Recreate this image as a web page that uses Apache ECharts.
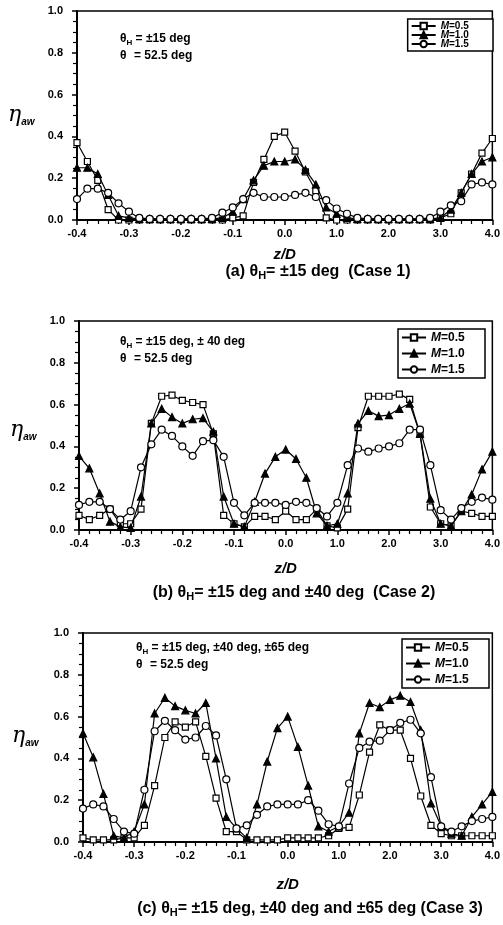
<!DOCTYPE html>
<html>
<head>
<meta charset="utf-8">
<script src="https://cdn.jsdelivr.net/npm/echarts@6/dist/echarts.min.js"></script>
<style>
html,body{margin:0;padding:0;background:#fff;}
#c{width:503px;height:925px;}
</style>
</head>
<body>
<div id="c"></div>
<script>
// z/D positions (41 points)
const zValues = [-4.0,-3.8,-3.6,-3.4,-3.2,-3.0,-2.8,-2.6,-2.4,-2.2,-2.0,-1.8,-1.6,-1.4,-1.2,-1.0,-0.8,-0.6,-0.4,-0.2,0.0,0.2,0.4,0.6,0.8,1.0,1.2,1.4,1.6,1.8,2.0,2.2,2.4,2.6,2.8,3.0,3.2,3.4,3.6,3.8,4.0];
const xTickLabels = ['-0.4','-0.3','-0.2','-0.1','0.0','1.0','2.0','3.0','4.0'];
const yTickLabels = ['0.0','0.2','0.4','0.6','0.8','1.0'];
const seriesNames = ['M=0.5','M=1.0','M=1.5'];

// Case 1
const case1_M05 = [0.37,0.28,0.19,0.05,0.00,0.00,0.00,0.00,0.00,0.00,0.00,0.00,0.00,0.00,0.00,0.01,0.02,0.18,0.29,0.40,0.42,0.33,0.23,0.14,0.01,0.00,0.00,0.00,0.00,0.00,0.00,0.00,0.00,0.00,0.00,0.01,0.03,0.13,0.22,0.32,0.39];
const case1_M10 = [0.25,0.25,0.22,0.12,0.02,0.01,0.005,0.005,0.005,0.005,0.005,0.005,0.005,0.005,0.01,0.04,0.10,0.19,0.26,0.28,0.28,0.29,0.24,0.17,0.06,0.03,0.01,0.005,0.005,0.005,0.005,0.005,0.005,0.005,0.005,0.01,0.05,0.13,0.22,0.28,0.30];
const case1_M15 = [0.10,0.15,0.15,0.13,0.08,0.04,0.01,0.005,0.005,0.005,0.005,0.005,0.005,0.01,0.035,0.06,0.10,0.13,0.11,0.11,0.11,0.12,0.13,0.11,0.095,0.055,0.03,0.01,0.005,0.005,0.005,0.005,0.005,0.005,0.01,0.04,0.07,0.09,0.17,0.18,0.17];
// Case 2
const case2_M05 = [0.07,0.05,0.07,0.10,0.03,0.03,0.10,0.51,0.64,0.645,0.62,0.61,0.60,0.46,0.07,0.03,0.015,0.065,0.065,0.05,0.09,0.05,0.05,0.10,0.02,0.01,0.10,0.49,0.64,0.64,0.64,0.65,0.625,0.46,0.11,0.03,0.02,0.09,0.08,0.065,0.065];
const case2_M10 = [0.354,0.295,0.175,0.04,0.015,0.01,0.16,0.51,0.58,0.54,0.51,0.53,0.535,0.47,0.16,0.03,0.015,0.135,0.27,0.35,0.385,0.34,0.25,0.08,0.02,0.03,0.175,0.51,0.57,0.545,0.55,0.58,0.605,0.46,0.15,0.03,0.02,0.09,0.17,0.29,0.375];
const case2_M15 = [0.12,0.135,0.135,0.10,0.05,0.09,0.30,0.41,0.48,0.45,0.40,0.355,0.425,0.43,0.35,0.13,0.07,0.13,0.13,0.13,0.12,0.135,0.13,0.105,0.065,0.13,0.31,0.39,0.375,0.39,0.40,0.415,0.48,0.48,0.31,0.095,0.05,0.105,0.135,0.155,0.145];
// Case 3
const case3_M05 = [0.02,0.01,0.01,0.01,0.02,0.02,0.08,0.27,0.50,0.575,0.55,0.575,0.41,0.21,0.05,0.05,0.01,0.01,0.01,0.01,0.02,0.02,0.02,0.02,0.03,0.065,0.07,0.225,0.43,0.56,0.535,0.535,0.40,0.22,0.08,0.04,0.03,0.03,0.03,0.03,0.03];
const case3_M10 = [0.52,0.405,0.23,0.03,0.02,0.05,0.18,0.615,0.69,0.65,0.63,0.615,0.665,0.40,0.12,0.065,0.02,0.18,0.385,0.545,0.60,0.455,0.27,0.075,0.05,0.075,0.14,0.52,0.665,0.645,0.68,0.70,0.67,0.535,0.185,0.075,0.04,0.03,0.12,0.18,0.24];
const case3_M15 = [0.16,0.18,0.17,0.11,0.05,0.04,0.25,0.53,0.58,0.535,0.49,0.50,0.555,0.51,0.30,0.065,0.08,0.13,0.17,0.18,0.18,0.18,0.20,0.15,0.085,0.075,0.28,0.45,0.48,0.485,0.535,0.57,0.585,0.52,0.31,0.075,0.05,0.075,0.10,0.11,0.12];

const panels = [
  {data:[case1_M05,case1_M10,case1_M15], grid:{left:77, top:11, width:417, height:209}, nameGap:27,
   note1:'{t|θ}{s|H}{t| = ±15 deg}', legendTop:19, legendRight:10, legendGap:-1, legendFont:9, legendLH:9},
  {data:[case2_M05,case2_M10,case2_M15], grid:{left:79, top:321, width:418, height:209}, nameGap:31,
   note1:'{t|θ}{s|H}{t| = ±15 deg, ± 40 deg}', legendTop:329, legendRight:18, legendGap:3, legendFont:11, legendLH:13},
  {data:[case3_M05,case3_M10,case3_M15], grid:{left:83, top:633, width:416, height:209}, nameGap:35,
   note1:'{t|θ}{s|H}{t| = ±15 deg, ±40 deg, ±65 deg}', legendTop:639, legendRight:14, legendGap:3, legendFont:11, legendLH:13}
];
const notePos = [[120,33],[120,336],[136,642]];
const captions = [
  {x:318, y:272, parts:['(a) θ','H','= ±15 deg  (Case 1)']},
  {x:294, y:593, parts:['(b) θ','H','= ±15 deg and ±40 deg  (Case 2)']},
  {x:310, y:909, parts:['(c) θ','H','= ±15 deg, ±40 deg and ±65 deg (Case 3)']}
];
const etaPos = [[8,117],[10,432],[12,738]];

const FONT = 'Liberation Sans, Arial, sans-serif';
const symbols = ['rect','triangle','circle'];
const symSizes = [6,7,7];
const fills = ['#fff','#000','#fff'];

const grids=[], xAxes=[], yAxes=[], series=[], legends=[], graphics=[];
panels.forEach((p,gi)=>{
  grids.push(Object.assign({show:true, borderColor:'#000', borderWidth:1.5, backgroundColor:'transparent'}, p.grid));
  xAxes.push({
    type:'value', gridIndex:gi, min:-4, max:4, interval:1,
    name:'z/D', nameLocation:'middle', nameGap:p.nameGap,
    nameTextStyle:{fontFamily:FONT, fontSize:15, fontWeight:'bold', fontStyle:'italic', color:'#000'},
    axisLine:{show:true, onZero:false, lineStyle:{color:'#000', width:2}},
    axisTick:{show:true, inside:false, length:5, lineStyle:{color:'#000', width:1.5}},
    minorTick:{show:true, splitNumber:5, length:4, lineStyle:{color:'#000', width:1.2}},
    splitLine:{show:false},
    axisLabel:{margin:8, fontFamily:FONT, fontSize:11, fontWeight:'bold', color:'#000',
      formatter:(v)=>xTickLabels[Math.round(v)+4]}
  });
  yAxes.push({
    type:'value', gridIndex:gi, min:0, max:1, interval:0.2,
    axisLine:{show:true, onZero:false, lineStyle:{color:'#000', width:2}},
    axisTick:{show:true, inside:false, length:5, lineStyle:{color:'#000', width:1.5}},
    minorTick:{show:true, splitNumber:4, length:4, lineStyle:{color:'#000', width:1.2}},
    splitLine:{show:false},
    axisLabel:{margin:14, fontFamily:FONT, fontSize:11, fontWeight:'bold', color:'#000',
      formatter:(v)=>yTickLabels[Math.round(v*5)]}
  });
  p.data.forEach((arr,si)=>{
    series.push({
      type:'line', name:seriesNames[si], xAxisIndex:gi, yAxisIndex:gi,
      data: zValues.map((z,i)=>[z,arr[i]]),
      symbol:symbols[si], symbolSize:symSizes[si], showAllSymbol:true,
      lineStyle:{color:'#000', width:1.2},
      itemStyle:{color:fills[si], borderColor:'#000', borderWidth:1.2},
      emphasis:{disabled:true}, clip:false, animation:false, z:3+si
    });
  });
  legends.push({
    data:seriesNames, orient:'vertical', right: p.legendRight, top:p.legendTop,
    itemWidth:24, itemHeight:8, itemGap:p.legendGap, padding:[2,4,2,3],
    borderColor:'#000', borderWidth:1.5, backgroundColor:'#fff', selectedMode:false,
    textStyle:{fontFamily:FONT, fontSize:p.legendFont, lineHeight:p.legendLH, fontWeight:'bold', color:'#000',
      rich:{i:{fontFamily:FONT, fontSize:p.legendFont+1, fontWeight:'bold', fontStyle:'italic', color:'#000', lineHeight:p.legendLH},
            r:{fontFamily:FONT, fontSize:p.legendFont+1, fontWeight:'bold', color:'#000', width:40, lineHeight:p.legendLH}}},
    formatter:(n)=>'{i|M}{r|'+n.slice(1)+'}'
  });
  // annotation
  const np = notePos[gi];
  const ts = {t:{fontFamily:FONT, fontSize:12, fontWeight:'bold', fill:'#000', lineHeight:16},
              s:{fontFamily:FONT, fontSize:8, fontWeight:'bold', fill:'#000', lineHeight:10, verticalAlign:'bottom'},
              w:{fontFamily:FONT, fontSize:12, fontWeight:'bold', fill:'#000', lineHeight:16, width:14}};
  graphics.push({type:'text', left:np[0], top:np[1], z:10,
    style:{text:p.note1, rich:ts}});
  graphics.push({type:'text', left:np[0], top:np[1]+17, z:10,
    style:{text:'{w|θ}{t|= 52.5 deg}', rich:ts}});
  // eta label
  const ep = etaPos[gi];
  graphics.push({type:'text', left:ep[0], top:ep[1]-13, z:10,
    style:{text:'{e|η}{a|aw}', rich:{
      e:{fontFamily:'DejaVu Serif, serif', fontSize:22, fontStyle:'italic', fill:'#000', lineHeight:24},
      a:{fontFamily:FONT, fontSize:10, fontWeight:'bold', fontStyle:'italic', fill:'#000', lineHeight:12, verticalAlign:'bottom'}}}});
  // caption
  const c = captions[gi];
  graphics.push({type:'text', x:c.x, y:c.y, z:10,
    style:{text:'{t|'+c.parts[0]+'}{s|'+c.parts[1]+'}{t|'+c.parts[2]+'}', align:'center', verticalAlign:'middle',
      rich:{t:{fontFamily:FONT, fontSize:16, fontWeight:'bold', fill:'#000', lineHeight:19},
            s:{fontFamily:FONT, fontSize:11, fontWeight:'bold', fill:'#000', lineHeight:11, verticalAlign:'bottom'}}}});
});

const chart = echarts.init(document.getElementById('c'), null, {renderer:'canvas'});
chart.setOption({
  backgroundColor:'#fff', animation:false,
  grid:grids, xAxis:xAxes, yAxis:yAxes, series:series, legend:legends, graphic:graphics
});
</script>
</body>
</html>
